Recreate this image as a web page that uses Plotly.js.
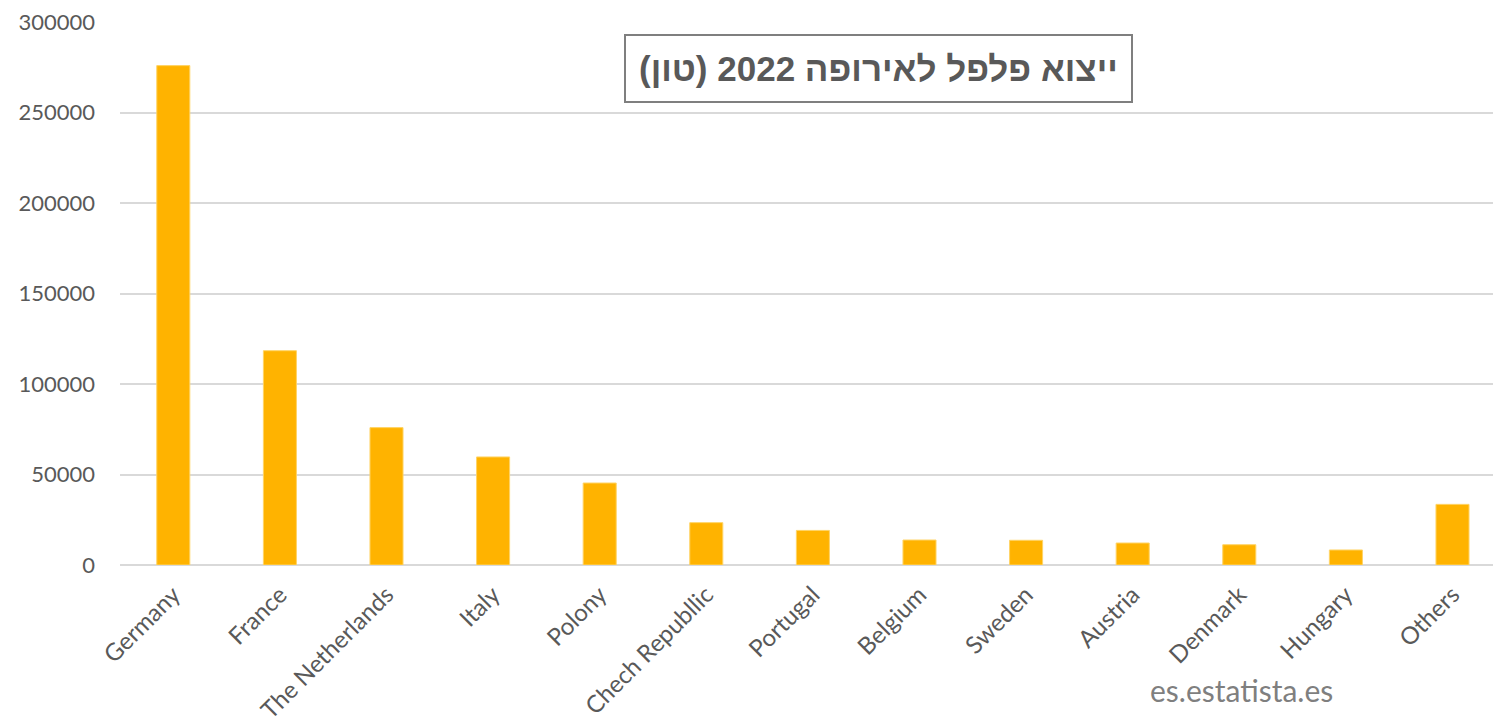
<!DOCTYPE html>
<html>
<head>
<meta charset="utf-8">
<script src="https://cdn.plot.ly/plotly-3.0.1.min.js"></script>
<style>html,body{margin:0;padding:0;background:#fff;}#chart{width:1493px;height:723px;}</style>
</head>
<body>
<div id="chart"></div>
<script>
const categories = ["Germany", "France", "The Netherlands", "Italy", "Polony", "Chech Republlic", "Portugal", "Belgium", "Sweden", "Austria", "Denmark", "Hungary", "Others"];
const exportsTons = [275900, 118400, 75900, 59700, 45300, 23400, 19100, 13800, 13650, 12150, 11200, 8300, 33500];
const yTicks = [0, 50000, 100000, 150000, 200000, 250000, 300000];
const chartTitle = "ייצוא פלפל לאירופה 2022 (טון)";
const sourceText = "es.estatista.es";

const trace = {
  type: "bar",
  x: categories,
  y: exportsTons,
  width: 0.31,
  marker: {color: "#FFB300", line: {color: "#FFD466", width: 1}},
  hoverinfo: "x+y"
};

const layout = {
  width: 1493,
  height: 723,
  margin: {l: 120, r: 0, t: 22, b: 158},
  paper_bgcolor: "#ffffff",
  plot_bgcolor: "#ffffff",
  showlegend: false,
  font: {family: "Lato, 'Open Sans', sans-serif", color: "#595959"},
  xaxis: {
    type: "category",
    range: [-0.5, 12.38],
    tickangle: -45,
    tickfont: {size: 24, color: "#595959", family: "Lato, sans-serif"},
    ticklabelstandoff: 10,
    showgrid: false,
    showline: false,
    ticks: "",
    zeroline: false
  },
  yaxis: {
    range: [0, 300000],
    tickvals: yTicks,
    ticktext: yTicks.map(String),
    tickfont: {size: 22, color: "#595959", family: "Lato, sans-serif"},
    ticklabelstandoff: 24,
    showgrid: true,
    gridcolor: "#d9d9d9",
    gridwidth: 2,
    zeroline: true,
    zerolinecolor: "#d9d9d9",
    zerolinewidth: 2,
    ticks: "",
    ticklen: 0,
    automargin: false
  },
  annotations: [
    {
      text: "<b>" + chartTitle + "</b>",
      xref: "paper", yref: "paper",
      x: (878 - 120) / 1373, y: (565.5 - 68.5) / 543.5,
      xanchor: "center", yanchor: "middle",
      showarrow: false,
      font: {family: "'Liberation Sans', Arial, sans-serif", size: 35, color: "#595959"},
      bordercolor: "#7f7f7f",
      borderwidth: 2,
      borderpad: 13,
      bgcolor: "#ffffff"
    },
    {
      text: sourceText,
      xref: "paper", yref: "paper",
      x: (1241 - 120) / 1373, y: -(691 - 565.5) / 543.5,
      xanchor: "center", yanchor: "middle",
      showarrow: false,
      font: {family: "Lato, sans-serif", size: 30, color: "#7f7f7f"}
    }
  ]
};

Plotly.newPlot("chart", [trace], layout, {displayModeBar: false, staticPlot: true});
</script>
</body>
</html>
